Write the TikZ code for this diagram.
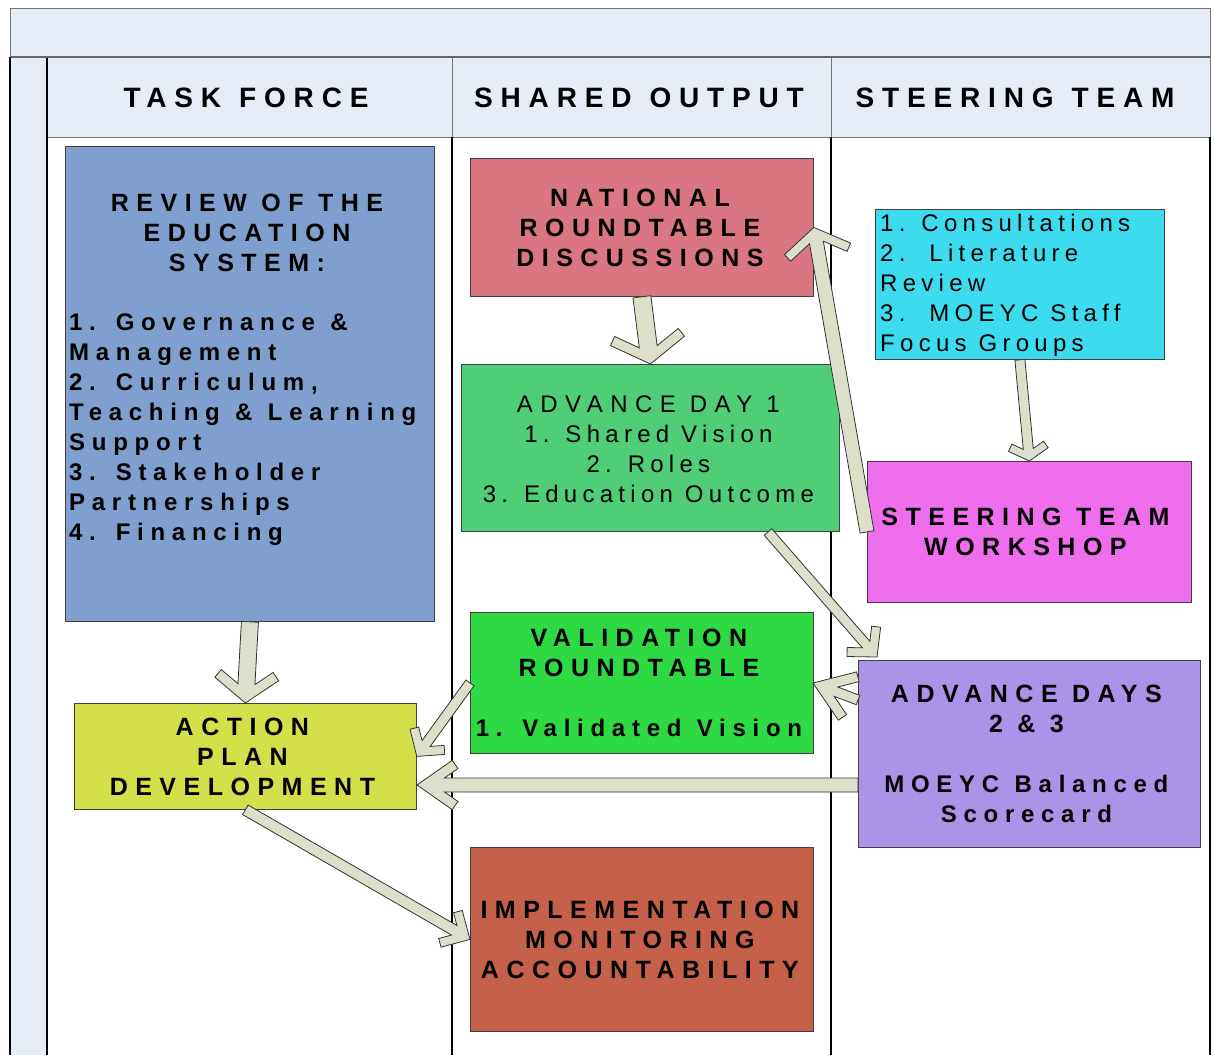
\documentclass[tikz,border=0pt]{standalone}
\usepackage{fontspec}
\setmainfont{Liberation Sans}
\newfontfamily\hdrfont[LetterSpace=28,WordSpace=1.6]{Liberation Sans}
\newfontfamily\capsfont[LetterSpace=30]{Liberation Sans}
\newfontfamily\mixfont[LetterSpace=28,WordSpace=1.15]{Liberation Sans}
\newfontfamily\regfont[LetterSpace=22]{Liberation Sans}
\newfontfamily\regwidefont[LetterSpace=31]{Liberation Sans}
\newcommand{\capsline}{\capsfont\bfseries\fontsize{25}{30}\selectfont}
\newcommand{\mixline}{\mixfont\bfseries\fontsize{24}{30}\selectfont}
\newcommand{\regline}{\regfont\fontsize{24}{30}\selectfont}
\usetikzlibrary{calc}
\definecolor{hdrfill}{HTML}{E5ECF6}
\definecolor{reviewc}{HTML}{7F9FCE}
\definecolor{natc}{HTML}{D97681}
\definecolor{advonec}{HTML}{4FCE77}
\definecolor{consc}{HTML}{3DDBEE}
\definecolor{wsc}{HTML}{EE6EEE}
\definecolor{valc}{HTML}{2ED944}
\definecolor{advc}{HTML}{AB93E8}
\definecolor{actc}{HTML}{D4E04A}
\definecolor{implc}{HTML}{C5604A}
\definecolor{arrowfill}{HTML}{DCE0CB}
\tikzset{
  lane/.style={draw=black, line width=1.3pt},
  hdrcell/.style={draw=black!55, line width=1pt, fill=hdrfill, inner sep=0pt, anchor=north west},
  hdrtext/.style={inner sep=0pt, font=\hdrfont\bfseries\fontsize{28}{34}\selectfont},
  procbox/.style={draw=black!75, line width=0.8pt, inner sep=0pt, anchor=north west},
  boxtext/.style={inner sep=0pt, align=center, font=\capsline},
  blk/.style={fill=arrowfill, draw=black!80, line width=0.8pt, line join=miter},
}
% block arrow: start, tip, half shaft width, arm length, arm angle, arm thickness
\newcommand{\blockarrow}[6]{%
  \path (#1); \pgfgetlastxy{\bax}{\bay}%
  \path (#2); \pgfgetlastxy{\bbx}{\bby}%
  \pgfmathsetmacro{\bang}{atan2(\bay-\bby,\bax-\bbx)}%
  \pgfmathsetmacro{\blen}{veclen(\bax-\bbx,\bay-\bby)}%
  \pgfmathsetmacro{\bOx}{#4*cos(#5)}%
  \pgfmathsetmacro{\bOy}{#4*sin(#5)}%
  \pgfmathsetmacro{\bIx}{\bOx+#6*sin(#5)}%
  \pgfmathsetmacro{\bIy}{\bOy-#6*cos(#5)}%
  \pgfmathsetmacro{\bJx}{\bIx-(\bIy-#3)/tan(#5)}%
  \draw[blk, shift={(#2)}, rotate=\bang] (0pt,0pt) -- (\bOx pt,\bOy pt) -- (\bIx pt,\bIy pt)
    -- (\bJx pt,#3pt) -- (\blen pt,#3pt) -- (\blen pt,-#3pt) -- (\bJx pt,-#3pt)
    -- (\bIx pt,-\bIy pt) -- (\bOx pt,-\bOy pt) -- cycle;
}
\begin{document}
\begin{tikzpicture}[x=1pt,y=-1pt]
\useasboundingbox (0,0) rectangle (1214,1055);
\fill[white] (0,0) rectangle (1214,1055);
% frame
\draw[draw=black!55, line width=1pt, fill=hdrfill] (10,8) rectangle (1210,57);
\fill[hdrfill] (10,57) rectangle (47,1055);
\node[hdrcell, minimum width=405pt, minimum height=80pt] (tf) at (47,57) {};
\node[hdrcell, minimum width=379pt, minimum height=80pt] (so) at (452,57) {};
\node[hdrcell, minimum width=379pt, minimum height=80pt] (st) at (831,57) {};
\node[hdrtext] (tftxt) at ([xshift=-4pt]tf.center) {TASK FORCE};
\node[hdrtext] (sotxt) at ([xshift=-3pt]so.center) {SHARED OUTPUT};
\node[hdrtext] (sttxt) at ([xshift=-6pt]st.center) {STEERING TEAM};
\draw[lane] (10,57) -- (10,1055);
\draw[lane] (47,57) -- (47,1055);
\draw[lane] (452,137) -- (452,1055);
\draw[lane] (831,137) -- (831,1055);
\draw[lane] (1210,137) -- (1210,1055);
\draw[draw=black!60, line width=1.5pt] (10,57) -- (1210,57);

% boxes
\node[procbox, fill=reviewc, minimum width=369pt, minimum height=475pt] (rev) at (65,146) {};
\node[procbox, fill=natc, minimum width=343pt, minimum height=138pt] (nat) at (470,158) {};
\node[procbox, fill=advonec, minimum width=378pt, minimum height=167pt] (adv1) at (461,364) {};
\node[procbox, fill=consc, minimum width=289pt, minimum height=150pt] (cons) at (875,209) {};
\node[procbox, fill=wsc, minimum width=324pt, minimum height=141pt] (ws) at (867,461) {};
\node[procbox, fill=valc, minimum width=343pt, minimum height=141pt] (val) at (470,612) {};
\node[procbox, fill=advc, minimum width=342pt, minimum height=187pt] (adv23) at (858,660) {};
\node[procbox, fill=actc, minimum width=342pt, minimum height=106pt] (act) at (74,703) {};
\node[procbox, fill=implc, minimum width=343pt, minimum height=184pt] (impl) at (470,847) {};

% texts
\node[boxtext] (revhead) at (247,233) {REVIEW OF THE\\EDUCATION\\SYSTEM:};
\node[boxtext, align=left, anchor=west, font=\mixline] (revlist) at (69,429.5)
  {1. Governance \&\\Management\\2. Curriculum,\\Teaching \& Learning\\Support\\3. Stakeholder\\Partnerships\\4. Financing};
\node[boxtext] (nattxt) at ([xshift=-2pt]nat.center) {NATIONAL\\ROUNDTABLE\\DISCUSSIONS};
\node[boxtext, font=\regline] (adv1txt) at ([xshift=-2pt,yshift=-1pt]adv1.center)
  {{\regwidefont\fontsize{24}{30}\selectfont ADVANCE DAY 1}\\1. Shared Vision\\2. Roles\\3. Education Outcome};
\node[boxtext, align=left, anchor=west, font=\regline] (constxt) at (880,285.5)
  {1. Consultations\\2.~~Literature\\Review\\3.~~MOEYC Staff\\Focus Groups};
\node[boxtext] (wstxt) at ([xshift=-4pt]ws.center) {STEERING TEAM\\WORKSHOP};
\node[boxtext] (valtxt) at ([xshift=-3pt]val.center)
  {VALIDATION\\ROUNDTABLE\\[30pt]{\mixline 1. Validated Vision}};
\node[boxtext] (adv23txt) at ([xshift=-3pt]adv23.center)
  {ADVANCE DAYS\\2 \& 3\\[30pt]{\mixline MOEYC Balanced}\\{\mixline Scorecard}};
\node[boxtext] (acttxt) at ([xshift=-3pt]act.center) {ACTION\\PLAN\\DEVELOPMENT};
\node[boxtext] (impltxt) at ([xshift=-2pt]impl.center) {IMPLEMENTATION\\MONITORING\\ACCOUNTABILITY};

% free arrow ends
\coordinate (a3s) at (768,532);
\coordinate (a3e) at (877,657);
\coordinate (a4s) at (858,700);
\coordinate (a4e) at (813,683);
\coordinate (a6s) at (858,785);
\coordinate (a6e) at (417,785);

% arrows
\blockarrow{nat.south}{adv1.north}{9}{44}{58}{10}
\blockarrow{ws.west}{nat.east}{7}{40}{57}{9}
\blockarrow{a3s}{a3e}{5}{30}{48}{9}
\blockarrow{a4s}{a4e}{5}{45}{35}{10}
\blockarrow{val.west}{act.east}{5}{28}{50}{9}
\blockarrow{a6s}{a6e}{7}{43}{35}{10}
\blockarrow{rev.south}{act.north}{8.5}{40}{53}{10}
\blockarrow{act.south}{impl.west}{5.5}{30}{45}{9}
\blockarrow{cons.south}{ws.north}{5}{23}{60}{8}
\end{tikzpicture}
\end{document}
